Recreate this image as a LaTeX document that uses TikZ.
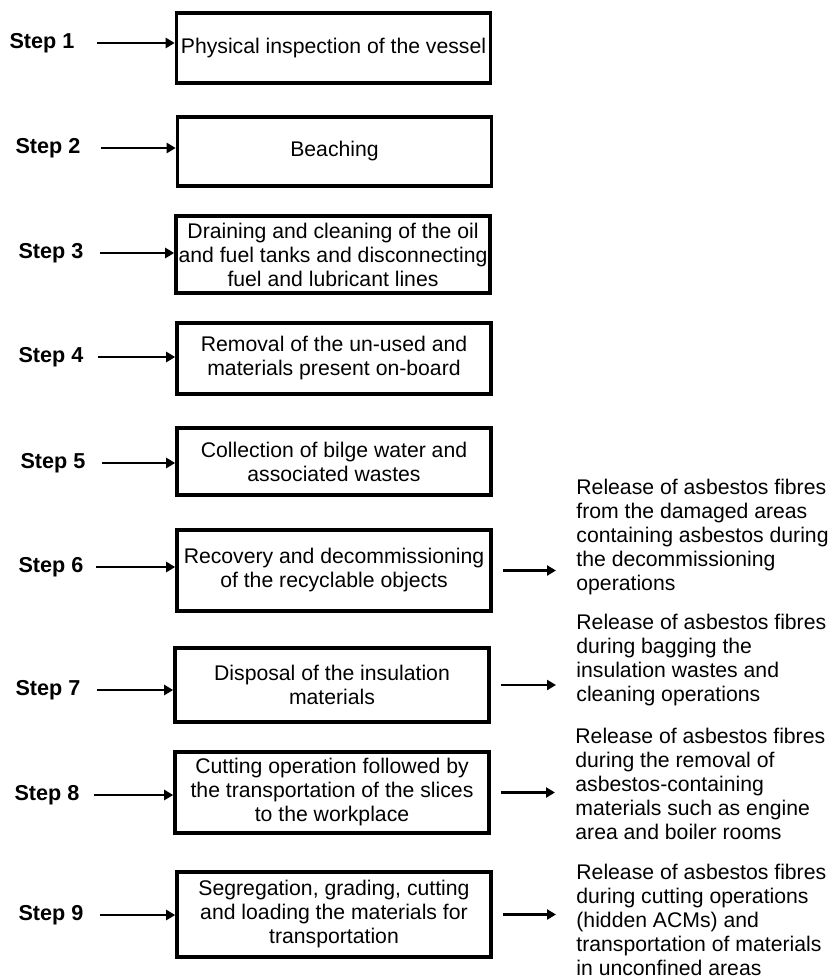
\documentclass[tikz,border=0pt]{standalone}
\usepackage{fontspec}
\setmainfont{Liberation Sans}
\usetikzlibrary{arrows.meta}

\begin{document}
\begin{tikzpicture}[x=0.5pt,y=-0.5pt,font=\fontsize{10.6}{12}\selectfont]

\tikzset{line/.style={draw,line width=1.8pt}}
\tikzset{arrow/.style={draw,line width=1.4pt,-{Triangle[length=4.5pt,width=5pt]}}}
\tikzset{stepbox/.style={line,align=center,inner sep=0pt,minimum width=157pt}}
\tikzset{steplabel/.style={font=\fontsize{10.8}{12}\selectfont\bfseries,inner sep=0pt}}
\tikzset{note/.style={anchor=west,align=left,inner sep=0pt}}

\useasboundingbox (0,0) rectangle (831,978);

% step labels
\node[steplabel] (l1) at (42,43) {Step 1};
\node[steplabel] (l2) at (48,148) {Step 2};
\node[steplabel] (l3) at (51,253) {Step 3};
\node[steplabel] (l4) at (51,357) {Step 4};
\node[steplabel] (l5) at (53,463) {Step 5};
\node[steplabel] (l6) at (51,567) {Step 6};
\node[steplabel] (l7) at (48,690) {Step 7};
\node[steplabel] (l8) at (47,795) {Step 8};
\node[steplabel] (l9) at (51,915) {Step 9};

% process boxes
\node[stepbox,minimum height=35pt] (b1) at (333.5,48) {Physical inspection of the vessel};
\node[stepbox,minimum height=34.5pt] (b2) at (334.5,151.5) {Beaching};
\node[stepbox,minimum height=38.5pt] (b3) at (333,254.5) {Draining and cleaning of the oil\\and fuel tanks and disconnecting\\fuel and lubricant lines};
\node[stepbox,minimum height=35.5pt] (b4) at (334,358.5) {Removal of the un-used and\\materials present on-board};
\node[stepbox,minimum height=33.5pt] (b5) at (334,461.5) {Collection of bilge water and\\associated wastes};
\node[stepbox,minimum height=40.5pt] (b6) at (334,570.5) {Recovery and decommissioning\\of the recyclable objects};
\node[stepbox,minimum height=37pt] (b7) at (332,685) {Disposal of the insulation\\materials};
\node[stepbox,minimum height=40.5pt] (b8) at (332,792.5) {Cutting operation followed by\\the transportation of the slices\\to the workplace};
\node[stepbox,minimum height=42.5pt] (b9) at (334,914.5) {Segregation, grading, cutting\\and loading the materials for\\transportation};

% release notes
\node[note] (r6) at (576,537) {Release of asbestos fibres\\from the damaged areas\\containing asbestos during\\the decommissioning\\operations};
\node[note] (r7) at (576,660) {Release of asbestos fibres\\during bagging the\\insulation wastes and\\cleaning operations};
\node[note] (r8) at (575,784) {Release of asbestos fibres\\during the removal of\\asbestos-containing\\materials such as engine\\area and boiler rooms};
\node[note] (r9) at (576,920) {Release of asbestos fibres\\during cutting operations\\(hidden ACMs) and\\transportation of materials\\in unconfined areas};

\path[arrow,shorten <=11pt] (l1.east) -- (l1.east -| b1.west);
\path[arrow,shorten <=10pt] (l2.east) -- (l2.east -| b2.west);
\path[arrow,shorten <=8pt] (l3.east) -- (l3.east -| b3.west);
\path[arrow,shorten <=7pt] (l4.east) -- (l4.east -| b4.west);
\path[arrow,shorten <=8pt] (l5.east) -- (l5.east -| b5.west);
\path[arrow,shorten <=6pt] (l6.east) -- (l6.east -| b6.west);
\path[arrow,shorten <=8pt] (l7.east) -- (l7.east -| b7.west);
\path[arrow,shorten <=7pt] (l8.east) -- (l8.east -| b8.west);
\path[arrow,shorten <=8pt] (l9.east) -- (l9.east -| b9.west);

\path[arrow,shorten <=5pt,shorten >=10pt] (b6.east) -- (b6.east -| r6.west);
\path[arrow,shorten <=5pt,shorten >=10pt] (b7.east) -- (b7.east -| r7.west);
\path[arrow,shorten <=5pt,shorten >=10pt] (b8.east) -- (b8.east -| r8.west);
\path[arrow,shorten <=5pt,shorten >=10pt] (b9.east) -- (b9.east -| r9.west);

\end{tikzpicture}
\end{document}
